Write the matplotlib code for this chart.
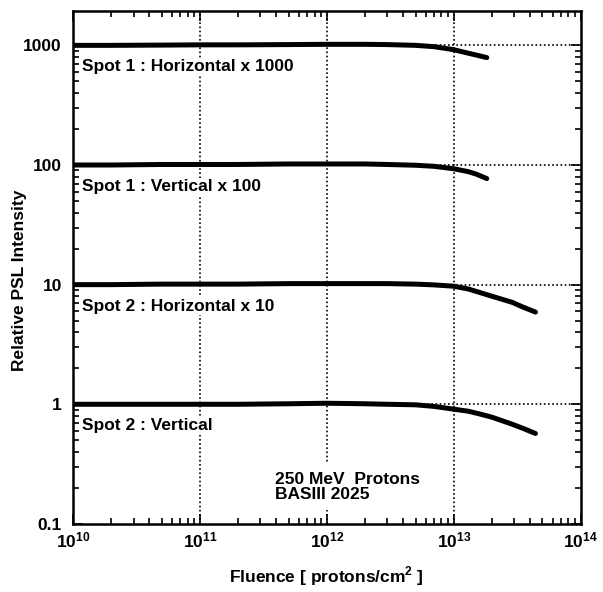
import math
import matplotlib
matplotlib.use('Agg')
import matplotlib.pyplot as plt
from matplotlib.ticker import LogLocator, FixedLocator, FuncFormatter, NullFormatter

plt.rcParams['font.family'] = ['Liberation Sans', 'DejaVu Sans']
plt.rcParams['font.weight'] = 'bold'
plt.rcParams['mathtext.fontset'] = 'custom'
plt.rcParams['mathtext.rm'] = 'Liberation Sans:bold'
plt.rcParams['mathtext.bf'] = 'Liberation Sans:bold'

# fluence, protons/cm^2
fluence_1 = [1e10, 2e10, 5e10, 1e11, 2e11, 5e11, 1e12, 2e12, 3e12, 5e12, 7e12,
             1e13, 1.3e13, 1.5e13, 1.82e13]
fluence_2 = [1e10, 2e10, 5e10, 1e11, 2e11, 5e11, 1e12, 2e12, 3e12, 5e12, 7e12,
             1e13, 1.3e13, 1.6e13, 2e13, 2.9e13, 3.5e13, 4.4e13]

spot1_h = [1000, 1000, 1005, 1010, 1010, 1015, 1020, 1020, 1015, 1000, 975,
           920, 860, 830, 790]
spot1_v = [100, 100, 101, 101, 101, 102, 102, 102, 101, 99.5, 97.5,
           93, 88, 84, 77]
spot2_h = [10, 10, 10.1, 10.1, 10.1, 10.2, 10.2, 10.2, 10.2, 10.1, 9.95,
           9.7, 9.2, 8.6, 8.0, 7.1, 6.5, 5.9]
spot2_v = [1.0, 1.0, 1.0, 1.0, 1.0, 1.01, 1.02, 1.01, 1.0, 0.99, 0.96,
           0.91, 0.875, 0.83, 0.78, 0.68, 0.63, 0.57]

labels = ['Spot 1 : Horizontal x 1000', 'Spot 1 : Vertical x 100',
          'Spot 2 : Horizontal x 10', 'Spot 2 : Vertical']
label_y = [660, 66, 6.6, 0.66]
note = '250 MeV  Protons\nBASIII 2025'

yticks = [0.1, 1, 10, 100, 1000]
xticks = [1e10, 1e11, 1e12, 1e13, 1e14]

fig = plt.figure(figsize=(6.03, 5.92), dpi=100)
ax = fig.add_axes([0.121, 0.115, 0.842, 0.867])
ax.set_xscale('log')
ax.set_yscale('log')
ax.set_xlim(1e10, 1e14)
ax.set_ylim(0.1, 1950)

for y in yticks[1:]:
    ax.axhline(y, color='black', ls=(0, (1, 1.5)), lw=1.2, zorder=1)
for x in xticks[1:-1]:
    ax.axvline(x, color='black', ls=(0, (1, 1.5)), lw=1.2, zorder=1)

for fl, vals in [(fluence_1, spot1_h), (fluence_1, spot1_v),
                 (fluence_2, spot2_h), (fluence_2, spot2_v)]:
    ax.plot(fl, vals, color='black', lw=3.6, solid_capstyle='round', zorder=3)

box = dict(facecolor='white', edgecolor='none', pad=1)
for txt, y in zip(labels, label_y):
    ax.text(1.17e10, y, txt, fontsize=12.5, fontweight='bold', va='center',
            bbox=box, zorder=2)

ax.text(3.9e11, 0.205, note, fontsize=12.5, fontweight='bold', va='center',
        linespacing=1.0, bbox=dict(facecolor='white', edgecolor='none', pad=6),
        zorder=2)

ax.xaxis.set_major_locator(FixedLocator(xticks))
ax.xaxis.set_major_formatter(FuncFormatter(lambda v, p: r'$\mathbf{10^{%d}}$' % round(math.log10(v))))
ax.xaxis.set_minor_locator(LogLocator(base=10, subs=range(2, 10), numticks=20))
ax.xaxis.set_minor_formatter(NullFormatter())
ax.yaxis.set_major_locator(FixedLocator(yticks))
ax.yaxis.set_major_formatter(FuncFormatter(lambda v, p: '%g' % v))
ax.yaxis.set_minor_locator(LogLocator(base=10, subs=range(2, 10), numticks=20))
ax.yaxis.set_minor_formatter(NullFormatter())

ax.tick_params(which='both', direction='in', top=True, right=True, width=1.2)
ax.tick_params(which='major', length=7, labelsize=12.5)
ax.tick_params(axis='y', which='major', pad=8)
ax.tick_params(axis='x', which='major', pad=5)
ax.tick_params(which='minor', length=4)
for s in ax.spines.values():
    s.set_linewidth(1.8)

ax.set_xlabel('Fluence [ protons/cm$^2$ ]', fontsize=12.5, fontweight='bold')
ax.xaxis.set_label_coords(0.5, -0.078)
ax.set_ylabel('Relative PSL Intensity', fontsize=12.5, fontweight='bold')
ax.yaxis.set_label_coords(-0.09, 0.475)

fig.savefig('out.png', dpi=100)
